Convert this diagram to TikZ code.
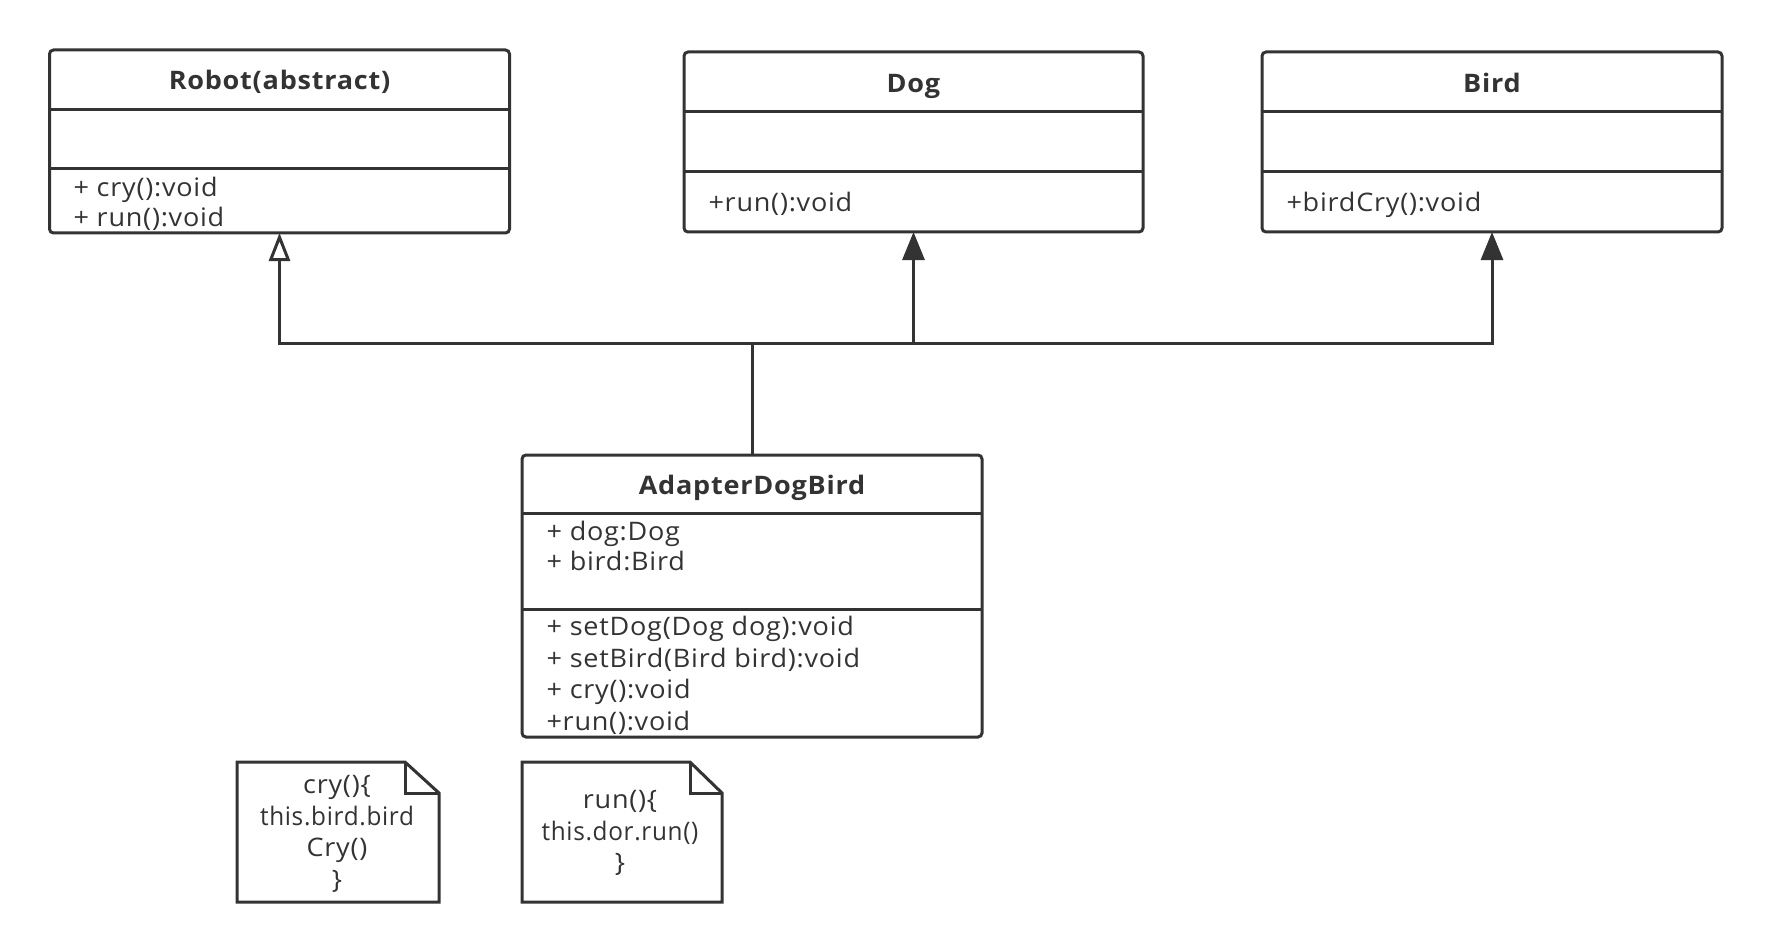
\documentclass[tikz,border=0pt]{standalone}
\usepackage{graphicx}
\usepackage{fontspec}
\setmainfont{Open Sans}[FakeStretch=1.06,LetterSpace=3]
\usetikzlibrary{arrows.meta,calc}
\definecolor{ink}{HTML}{333333}
\begin{document}
\begin{tikzpicture}[x=1pt,y=-1pt,line width=3pt,
  cls/.style={draw=ink,line width=3pt,rounded corners=4pt,inner sep=0pt,outer sep=0pt,rectangle},
  lbl/.style={text=ink,inner sep=0pt,font=\fontsize{25.5}{31.5}\selectfont},
  ttl/.style={text=ink,inner sep=0pt,font=\fontsize{25.5}{31.5}\selectfont\bfseries},
  notebox/.style={inner sep=0pt,outer sep=0pt,minimum width=202pt,minimum height=140pt},
  notetext/.style={text=ink,inner sep=0pt,align=center,font=\fontsize{25.5}{31.5}\selectfont},
  sep/.style={draw=ink,line width=3pt},
  conn/.style={draw=ink,line width=3pt},
  hollowtip/.style={conn,-{Triangle[open,length=28pt,width=21pt,fill=white,line width=3pt]}},
  solidtip/.style={conn,-{Triangle[length=28pt,width=22pt]}}
]
\useasboundingbox[fill=white] (0,0) rectangle (1772,952);

% Robot
\node[cls,minimum width=460pt,minimum height=183pt] (robot) at (279.5,141.5) {};
\draw[sep] (robot.west |- 0,110) -- (robot.east |- 0,110);
\draw[sep] (robot.west |- 0,169) -- (robot.east |- 0,169);
\node[ttl,anchor=base] (robotT) at (279.5,90) {Robot(abstract)};
\node[lbl,anchor=base west] (robotM1) at (72,196.7) {+ cry():void};
\node[lbl,anchor=base west] (robotM2) at (72,226.7) {+ run():void};

% Dog
\node[cls,minimum width=459pt,minimum height=180pt] (dog) at (913.5,142) {};
\draw[sep] (dog.west |- 0,112) -- (dog.east |- 0,112);
\draw[sep] (dog.west |- 0,172) -- (dog.east |- 0,172);
\node[ttl,anchor=base] (dogT) at (913.5,92.5) {Dog};
\node[lbl,anchor=base west] (dogM1) at (707,211.5) {+run():void};

% Bird
\node[cls,minimum width=460pt,minimum height=180pt] (bird) at (1492,142) {};
\draw[sep] (bird.west |- 0,112) -- (bird.east |- 0,112);
\draw[sep] (bird.west |- 0,172) -- (bird.east |- 0,172);
\node[ttl,anchor=base] (birdT) at (1492,92.5) {Bird};
\node[lbl,anchor=base west] (birdM1) at (1285,211.5) {+birdCry():void};

% Adapter
\node[cls,minimum width=460pt,minimum height=282pt] (ad) at (752,596) {};
\draw[sep] (ad.west |- 0,513) -- (ad.east |- 0,513);
\draw[sep] (ad.west |- 0,609) -- (ad.east |- 0,609);
\node[ttl,anchor=base] (adT) at (752,494) {AdapterDogBird};
\node[lbl,anchor=base west] (adA1) at (545,540) {+ dog:Dog};
\node[lbl,anchor=base west] (adA2) at (545,570.5) {+ bird:Bird};
\node[lbl,anchor=base west] (adM1) at (545,635) {+ setDog(Dog dog):void};
\node[lbl,anchor=base west] (adM2) at (545,667) {+ setBird(Bird bird):void};
\node[lbl,anchor=base west] (adM3) at (545,698.5) {+ cry():void};
\node[lbl,anchor=base west] (adM4) at (545,730) {+run():void};

% connectors
\coordinate (j) at (752,343);
\draw[conn] (ad.north) -- (j);
\draw[hollowtip] (j) -| (robot.south);
\draw[solidtip] (j) -| (dog.south);
\draw[solidtip] (j) -| (bird.south);

% notes
\node[notebox] (n1) at (338,832) {};
\draw[conn,line join=miter] (n1.north west) -- ($(n1.north east)+(-34,0)$) -- ($(n1.north east)+(0,31)$) -- (n1.south east) -- (n1.south west) -- cycle;
\draw[conn,line join=miter] ($(n1.north east)+(-34,0)$) -- ($(n1.north east)+(-34,31)$) -- ($(n1.north east)+(0,31)$);
\node[notetext] (n1t) at (337,834) {cry()\{\\\scalebox{0.9}[1]{this.bird.bird}\\Cry()\\\}};

\node[notebox,minimum width=200pt] (n2) at (622,832) {};
\draw[conn,line join=miter] (n2.north west) -- ($(n2.north east)+(-32,0)$) -- ($(n2.north east)+(0,31)$) -- (n2.south east) -- (n2.south west) -- cycle;
\draw[conn,line join=miter] ($(n2.north east)+(-32,0)$) -- ($(n2.north east)+(-32,31)$) -- ($(n2.north east)+(0,31)$);
\node[notetext] (n2t) at (620,833) {run()\{\\\scalebox{0.9}[1]{this.dor.run()}\\\}};
\end{tikzpicture}
\end{document}
